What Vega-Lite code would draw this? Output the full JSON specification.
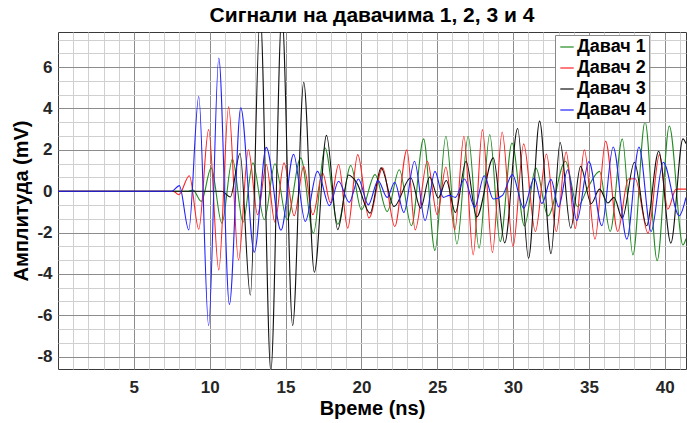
{
  "$schema": "https://vega.github.io/schema/vega-lite/v6.json",
  "width": 628,
  "height": 337,
  "autosize": {"type": "none"},
  "padding": {"left": 58, "top": 32, "right": 1, "bottom": 54},
  "background": "white",
  "config": {
    "font": "Liberation Sans",
    "view": {"stroke": "#3a3a3a", "strokeWidth": 1}
  },
  "title": {
    "text": "Сигнали на давачима 1, 2, 3 и 4",
    "fontSize": 21,
    "fontWeight": "bold",
    "color": "#000000",
    "anchor": "middle",
    "offset": 6
  },
  "datasets": {
    "d": [
      {"s": "Давач 1", "t": 0, "v": 0},
      {"s": "Давач 1", "t": 8.5, "v": 0},
      {"s": "Давач 1", "t": 8.9, "v": 0.05},
      {"s": "Давач 1", "t": 9.45, "v": -0.49},
      {"s": "Давач 1", "t": 10.1, "v": 1.13},
      {"s": "Давач 1", "t": 10.8, "v": -1.55},
      {"s": "Давач 1", "t": 11.5, "v": 1.56},
      {"s": "Давач 1", "t": 12.2, "v": -1.5},
      {"s": "Давач 1", "t": 12.85, "v": 1.37},
      {"s": "Давач 1", "t": 13.6, "v": -1.38},
      {"s": "Давач 1", "t": 14.3, "v": 1.33},
      {"s": "Давач 1", "t": 15.1, "v": -1.38},
      {"s": "Давач 1", "t": 16.0, "v": 1.61},
      {"s": "Давач 1", "t": 16.84, "v": -2.03},
      {"s": "Давач 1", "t": 17.6, "v": 2.1},
      {"s": "Давач 1", "t": 18.45, "v": -1.6},
      {"s": "Давач 1", "t": 19.3, "v": 1.24},
      {"s": "Давач 1", "t": 20.0, "v": -0.9},
      {"s": "Давач 1", "t": 20.9, "v": 0.8},
      {"s": "Давач 1", "t": 21.7, "v": -0.98},
      {"s": "Давач 1", "t": 22.5, "v": 1.04},
      {"s": "Давач 1", "t": 23.3, "v": -1.67},
      {"s": "Давач 1", "t": 24.1, "v": 2.53},
      {"s": "Давач 1", "t": 24.85, "v": -2.87},
      {"s": "Давач 1", "t": 25.57, "v": 2.66},
      {"s": "Давач 1", "t": 26.3, "v": -2.55},
      {"s": "Давач 1", "t": 27.04, "v": 2.66},
      {"s": "Давач 1", "t": 27.76, "v": -2.76},
      {"s": "Давач 1", "t": 28.46, "v": 2.74},
      {"s": "Давач 1", "t": 29.15, "v": -2.44},
      {"s": "Давач 1", "t": 29.93, "v": 2.33},
      {"s": "Давач 1", "t": 30.75, "v": -1.68},
      {"s": "Давач 1", "t": 31.5, "v": 1.13},
      {"s": "Давач 1", "t": 32.3, "v": -1.2},
      {"s": "Давач 1", "t": 33.45, "v": 1.45},
      {"s": "Давач 1", "t": 34.25, "v": -0.75},
      {"s": "Давач 1", "t": 34.95, "v": 0.2},
      {"s": "Давач 1", "t": 35.7, "v": 0.96},
      {"s": "Давач 1", "t": 36.4, "v": -1.95},
      {"s": "Давач 1", "t": 37.2, "v": 2.53},
      {"s": "Давач 1", "t": 37.9, "v": -3.08},
      {"s": "Давач 1", "t": 38.7, "v": 3.36},
      {"s": "Давач 1", "t": 39.5, "v": -3.36},
      {"s": "Давач 1", "t": 40.3, "v": 3.15},
      {"s": "Давач 1", "t": 41.2, "v": -2.6},
      {"s": "Давач 1", "t": 41.4, "v": -2.3},

      {"s": "Давач 2", "t": 0, "v": 0},
      {"s": "Давач 2", "t": 7.6, "v": 0},
      {"s": "Давач 2", "t": 7.96, "v": -0.17},
      {"s": "Давач 2", "t": 8.66, "v": 0.75},
      {"s": "Давач 2", "t": 9.28, "v": -1.84},
      {"s": "Давач 2", "t": 9.93, "v": 2.98},
      {"s": "Давач 2", "t": 10.6, "v": -3.81},
      {"s": "Давач 2", "t": 11.25, "v": 4.08},
      {"s": "Давач 2", "t": 11.9, "v": -3.33},
      {"s": "Давач 2", "t": 12.55, "v": 2.0},
      {"s": "Давач 2", "t": 13.16, "v": -1.14},
      {"s": "Давач 2", "t": 13.73, "v": 1.29},
      {"s": "Давач 2", "t": 14.3, "v": -1.5},
      {"s": "Давач 2", "t": 14.9, "v": 1.37},
      {"s": "Давач 2", "t": 15.57, "v": -1.19},
      {"s": "Давач 2", "t": 16.2, "v": 1.2},
      {"s": "Давач 2", "t": 16.8, "v": -1.14},
      {"s": "Давач 2", "t": 17.45, "v": 0.88},
      {"s": "Давач 2", "t": 17.95, "v": -0.55},
      {"s": "Давач 2", "t": 18.5, "v": 1.29},
      {"s": "Давач 2", "t": 19.1, "v": -1.79},
      {"s": "Давач 2", "t": 19.76, "v": 1.77},
      {"s": "Давач 2", "t": 20.5, "v": -1.3},
      {"s": "Давач 2", "t": 21.4, "v": 1.13},
      {"s": "Давач 2", "t": 22.2, "v": -1.71},
      {"s": "Давач 2", "t": 23.0, "v": 2.0},
      {"s": "Давач 2", "t": 23.55, "v": -1.87},
      {"s": "Давач 2", "t": 24.35, "v": 1.45},
      {"s": "Давач 2", "t": 25.0, "v": -1.14},
      {"s": "Давач 2", "t": 25.57, "v": 1.17},
      {"s": "Давач 2", "t": 26.16, "v": -1.87},
      {"s": "Давач 2", "t": 26.76, "v": 2.66},
      {"s": "Давач 2", "t": 27.37, "v": -3.08},
      {"s": "Давач 2", "t": 27.98, "v": 2.98},
      {"s": "Давач 2", "t": 28.64, "v": -2.97},
      {"s": "Давач 2", "t": 29.28, "v": 2.86},
      {"s": "Давач 2", "t": 30.0, "v": -2.68},
      {"s": "Давач 2", "t": 30.7, "v": 2.29},
      {"s": "Давач 2", "t": 31.47, "v": -1.95},
      {"s": "Давач 2", "t": 32.2, "v": 1.8},
      {"s": "Давач 2", "t": 32.85, "v": -1.95},
      {"s": "Давач 2", "t": 33.5, "v": 1.9},
      {"s": "Давач 2", "t": 34.1, "v": -1.8},
      {"s": "Давач 2", "t": 34.7, "v": 2.0},
      {"s": "Давач 2", "t": 35.4, "v": -2.32},
      {"s": "Давач 2", "t": 36.1, "v": 2.42},
      {"s": "Давач 2", "t": 36.9, "v": -1.95},
      {"s": "Давач 2", "t": 37.6, "v": 0.59},
      {"s": "Давач 2", "t": 38.05, "v": 0.6},
      {"s": "Давач 2", "t": 38.9, "v": -2.03},
      {"s": "Давач 2", "t": 39.65, "v": 1.77},
      {"s": "Давач 2", "t": 40.2, "v": -0.87},
      {"s": "Давач 2", "t": 40.75, "v": 0.1},
      {"s": "Давач 2", "t": 41.4, "v": 0.1},

      {"s": "Давач 3", "t": 0, "v": 0},
      {"s": "Давач 3", "t": 10.8, "v": 0},
      {"s": "Давач 3", "t": 11.36, "v": -0.28},
      {"s": "Давач 3", "t": 12.0, "v": 1.82},
      {"s": "Давач 3", "t": 12.68, "v": -5.03},
      {"s": "Давач 3", "t": 13.33, "v": 8.6},
      {"s": "Давач 3", "t": 14.03, "v": -8.7},
      {"s": "Давач 3", "t": 14.76, "v": 8.6},
      {"s": "Давач 3", "t": 15.47, "v": -6.5},
      {"s": "Давач 3", "t": 16.2, "v": 5.27},
      {"s": "Давач 3", "t": 16.9, "v": -3.92},
      {"s": "Давач 3", "t": 17.7, "v": 2.7},
      {"s": "Давач 3", "t": 18.44, "v": -1.86},
      {"s": "Давач 3", "t": 19.15, "v": 0.78},
      {"s": "Давач 3", "t": 19.7, "v": 0.4},
      {"s": "Давач 3", "t": 20.57, "v": -1.06},
      {"s": "Давач 3", "t": 21.3, "v": 1.13},
      {"s": "Давач 3", "t": 22.15, "v": -0.74},
      {"s": "Давач 3", "t": 23.25, "v": 0.65},
      {"s": "Давач 3", "t": 23.9, "v": -0.82},
      {"s": "Давач 3", "t": 24.5, "v": 0.69},
      {"s": "Давач 3", "t": 25.07, "v": -0.33},
      {"s": "Давач 3", "t": 25.6, "v": 0.52},
      {"s": "Давач 3", "t": 26.2, "v": -1.03},
      {"s": "Давач 3", "t": 26.9, "v": 1.45},
      {"s": "Давач 3", "t": 27.6, "v": -1.25},
      {"s": "Давач 3", "t": 28.7, "v": 1.61},
      {"s": "Давач 3", "t": 29.45, "v": -2.5},
      {"s": "Давач 3", "t": 30.3, "v": 3.03},
      {"s": "Давач 3", "t": 31.02, "v": -3.24},
      {"s": "Давач 3", "t": 31.75, "v": 3.39},
      {"s": "Давач 3", "t": 32.5, "v": -3.02},
      {"s": "Давач 3", "t": 33.1, "v": 2.36},
      {"s": "Давач 3", "t": 33.8, "v": -1.79},
      {"s": "Давач 3", "t": 34.45, "v": 1.2},
      {"s": "Давач 3", "t": 35.15, "v": -0.6},
      {"s": "Давач 3", "t": 35.7, "v": 0.1},
      {"s": "Давач 3", "t": 36.25, "v": -0.57},
      {"s": "Давач 3", "t": 36.65, "v": -0.3},
      {"s": "Давач 3", "t": 37.2, "v": -1.3},
      {"s": "Давач 3", "t": 38.0, "v": 1.4},
      {"s": "Давач 3", "t": 38.8, "v": -1.67},
      {"s": "Давач 3", "t": 39.6, "v": 1.93},
      {"s": "Давач 3", "t": 40.4, "v": -2.51},
      {"s": "Давач 3", "t": 41.2, "v": 2.53},
      {"s": "Давач 3", "t": 41.4, "v": 2.3},

      {"s": "Давач 4", "t": 0, "v": 0},
      {"s": "Давач 4", "t": 7.5, "v": 0},
      {"s": "Давач 4", "t": 8.0, "v": 0.27},
      {"s": "Давач 4", "t": 8.62, "v": -1.87},
      {"s": "Давач 4", "t": 9.28, "v": 4.58},
      {"s": "Давач 4", "t": 9.93, "v": -6.5},
      {"s": "Давач 4", "t": 10.6, "v": 6.44},
      {"s": "Давач 4", "t": 11.3, "v": -5.48},
      {"s": "Давач 4", "t": 12.05, "v": 4.03},
      {"s": "Давач 4", "t": 12.94, "v": -2.95},
      {"s": "Давач 4", "t": 13.73, "v": 2.12},
      {"s": "Давач 4", "t": 14.7, "v": -1.89},
      {"s": "Давач 4", "t": 15.53, "v": 1.78},
      {"s": "Давач 4", "t": 16.3, "v": -1.46},
      {"s": "Давач 4", "t": 17.1, "v": 0.96},
      {"s": "Давач 4", "t": 17.9, "v": -0.7},
      {"s": "Давач 4", "t": 18.5, "v": 0.48},
      {"s": "Давач 4", "t": 19.2, "v": -0.54},
      {"s": "Давач 4", "t": 19.8, "v": 0.59},
      {"s": "Давач 4", "t": 20.46, "v": -0.66},
      {"s": "Давач 4", "t": 21.1, "v": 0.51},
      {"s": "Давач 4", "t": 21.7, "v": -0.3},
      {"s": "Давач 4", "t": 22.2, "v": 0.43},
      {"s": "Давач 4", "t": 22.8, "v": -1.03},
      {"s": "Давач 4", "t": 23.5, "v": 1.45},
      {"s": "Давач 4", "t": 24.2, "v": -1.42},
      {"s": "Давач 4", "t": 24.85, "v": 0.96},
      {"s": "Давач 4", "t": 25.4, "v": -0.3},
      {"s": "Давач 4", "t": 25.8, "v": -0.2},
      {"s": "Давач 4", "t": 26.2, "v": -0.3},
      {"s": "Давач 4", "t": 26.8, "v": 0.59},
      {"s": "Давач 4", "t": 27.47, "v": -0.77},
      {"s": "Давач 4", "t": 28.1, "v": 0.75},
      {"s": "Давач 4", "t": 28.7, "v": -0.38},
      {"s": "Давач 4", "t": 29.3, "v": -0.2},
      {"s": "Давач 4", "t": 29.95, "v": 0.8},
      {"s": "Давач 4", "t": 30.7, "v": -0.82},
      {"s": "Давач 4", "t": 31.4, "v": 0.64},
      {"s": "Давач 4", "t": 31.9, "v": -0.6},
      {"s": "Давач 4", "t": 32.5, "v": 0.57},
      {"s": "Давач 4", "t": 33.0, "v": -0.76},
      {"s": "Давач 4", "t": 33.6, "v": 1.04},
      {"s": "Давач 4", "t": 34.2, "v": -1.42},
      {"s": "Давач 4", "t": 35.0, "v": 1.43},
      {"s": "Давач 4", "t": 35.85, "v": -1.67},
      {"s": "Давач 4", "t": 36.6, "v": 2.14},
      {"s": "Давач 4", "t": 37.5, "v": -2.32},
      {"s": "Давач 4", "t": 38.3, "v": 2.14},
      {"s": "Давач 4", "t": 39.1, "v": -1.95},
      {"s": "Давач 4", "t": 39.9, "v": 1.4},
      {"s": "Давач 4", "t": 40.95, "v": -1.19},
      {"s": "Давач 4", "t": 41.4, "v": -0.3}
    ]
  },
  "data": {"name": "d"},
  "resolve": {"axis": {"x": "independent", "y": "independent"}},
  "layer": [
    {
      "mark": {"type": "line", "strokeOpacity": 0, "clip": true},
      "encoding": {
        "x": {
          "field": "t", "type": "quantitative",
          "scale": {"domain": [0, 41.4], "nice": false, "zero": false},
          "axis": {
            "orient": "bottom", "values": [1,2,3,4,6,7,8,9,11,12,13,14,16,17,18,19,21,22,23,24,26,27,28,29,31,32,33,34,36,37,38,39,41],
            "grid": true, "gridColor": "#d0d0d0", "gridWidth": 1,
            "labels": false, "ticks": false, "domain": false, "title": null
          }
        },
        "y": {
          "field": "v", "type": "quantitative",
          "scale": {"domain": [-8.6, 7.7], "nice": false, "zero": false},
          "axis": {
            "orient": "left", "values": [-7.3333,-6.6667,-5.3333,-4.6667,-3.3333,-2.6667,-1.3333,-0.6667,0.6667,1.3333,2.6667,3.3333,4.6667,5.3333,6.6667,7.3333],
            "grid": true, "gridColor": "#d0d0d0", "gridWidth": 1,
            "labels": false, "ticks": false, "domain": false, "title": null
          }
        },
        "detail": {"field": "s"}
      }
    },
    {
      "mark": {"type": "line", "strokeWidth": 1.1, "interpolate": "monotone", "clip": true},
      "encoding": {
        "x": {
          "field": "t", "type": "quantitative",
          "axis": {
            "orient": "bottom", "values": [5,10,15,20,25,30,35,40],
            "grid": true, "gridColor": "#8c8c8c", "gridWidth": 1,
            "domain": false, "ticks": false,
            "labelFontSize": 17, "labelFontWeight": "bold", "labelColor": "#262626", "labelPadding": 10,
            "title": "Време (ns)", "titleFontSize": 20, "titleFontWeight": "bold", "titleColor": "#000000", "titlePadding": 3
          }
        },
        "y": {
          "field": "v", "type": "quantitative",
          "axis": {
            "orient": "left", "values": [-8,-6,-4,-2,0,2,4,6],
            "labelExpr": "datum.value < 0 ? '-' + abs(datum.value) : '' + datum.value",
            "grid": true, "gridColor": "#8c8c8c", "gridWidth": 1,
            "domain": false, "ticks": false,
            "labelFontSize": 17, "labelFontWeight": "bold", "labelColor": "#262626", "labelPadding": 6,
            "title": "Амплитуда (mV)", "titleFontSize": 20, "titleFontWeight": "bold", "titleColor": "#000000", "titlePadding": 5
          }
        },
        "color": {
          "field": "s", "type": "nominal",
          "scale": {"domain": ["Давач 1", "Давач 2", "Давач 3", "Давач 4"], "range": ["#1f8a1f", "#ff2020", "#111111", "#2020ff"]},
          "legend": {
            "title": null, "orient": "none", "legendX": 497, "legendY": 3,
            "symbolType": "stroke", "symbolSize": 180, "symbolStrokeWidth": 1.2,
            "labelFontSize": 18, "labelFontWeight": "bold", "labelColor": "#000000", "labelOffset": 1,
            "rowPadding": 3, "padding": 3,
            "strokeColor": "#888888", "fillColor": "#ffffff"
          }
        }
      }
    }
  ]
}
